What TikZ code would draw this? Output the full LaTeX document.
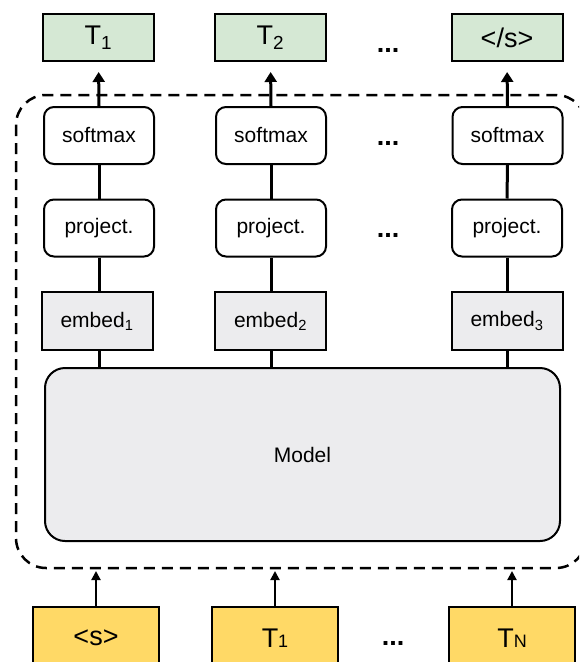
\documentclass[tikz,border=0pt]{standalone}
\usepackage{fontspec}
\setmainfont{Liberation Sans}
\usetikzlibrary{arrows.meta}
\definecolor{outgreen}{HTML}{D5E8D4}
\definecolor{ingold}{HTML}{FFD966}
\definecolor{boxgray}{HTML}{ECECEE}

\begin{document}
\begin{tikzpicture}[x=1pt,y=-1pt,
  base/.style={draw=black, line width=2pt, inner sep=0pt, font=\fontsize{21}{25}\selectfont},
  token/.style={base, fill=outgreen, minimum width=111pt, minimum height=47pt, font=\fontsize{27}{32}\selectfont},
  opbox/.style={base, fill=white, rounded corners=10pt, minimum width=110pt, minimum height=57pt},
  embbox/.style={base, fill=boxgray, minimum width=111pt, minimum height=58pt},
  modelbox/.style={base, fill=boxgray, rounded corners=20pt, minimum width=515pt, minimum height=173pt},
  inbox/.style={base, fill=ingold, minimum width=126pt, minimum height=62pt, font=\fontsize{27}{32}\selectfont},
  link/.style={line width=3pt},
  outarrow/.style={line width=3pt, -{Triangle[length=10pt,width=12pt]}, shorten >=10pt},
  inarrow/.style={line width=2pt, -{Triangle[length=9pt,width=9pt]}},
  dots/.style={font=\fontsize{27}{30}\selectfont\bfseries},
  frame/.style={line width=2.5pt, dash pattern=on 11pt off 7pt, rounded corners=30pt},
]
\useasboundingbox (0,0) rectangle (579,662);
\clip (0,0) rectangle (579,662);

% output tokens
\node[token] (o1) at (98.5,37.5) {T\textsubscript{1}};
\node[token] (o2) at (270.5,37.5) {T\textsubscript{2}};
\node[token] (o3) at (507,37.5) {</s>};
\node[dots] (od) at (388,50) {...};

% dashed frame around the decoder stack
\draw[frame] (16,95) rectangle (586,568);

% softmax row
\node[opbox] (s1) at (99,135.5) {softmax};
\node[opbox] (s2) at (271,135.5) {softmax};
\node[opbox] (s3) at (507.5,135.5) {softmax};
\node[dots] (sd) at (388,143) {...};

% projection row
\node[opbox] (p1) at (99,228) {project.};
\node[opbox] (p2) at (271,228) {project.};
\node[opbox] (p3) at (507,228) {project.};
\node[dots] (pd) at (388,235) {...};

% embedding row
\node[embbox] (e1) at (97,321) {embed\textsubscript{1}};
\node[embbox] (e2) at (270.5,321) {embed\textsubscript{2}};
\node[embbox] (e3) at (507,321) {embed\textsubscript{3}};

% model
\node[modelbox] (m) at (302.5,454.5) {Model};

% input tokens
\node[inbox] (i1) at (96,638) {<s>};
\node[inbox] (i2) at (275,638) {T{\fontsize{18}{20}\selectfont 1}};
\node[inbox] (i3) at (512,638) {T{\fontsize{18}{20}\selectfont N}};
\node[dots] (id) at (393,643) {...};

% vertical links
\foreach \c in {1,2,3}{
  \draw[outarrow] (s\c.north) -- (o\c.south);
  \draw[link] (s\c.south) -- (p\c.north);
  \draw[link] (p\c.south) -- (p\c.south |- e\c.north);
  \draw[link] (p\c.south |- e\c.south) -- (p\c.south |- m.north);
  \draw[inarrow] (i\c.north) -- (i\c.north |- 0,571);
}
\end{tikzpicture}
\end{document}
